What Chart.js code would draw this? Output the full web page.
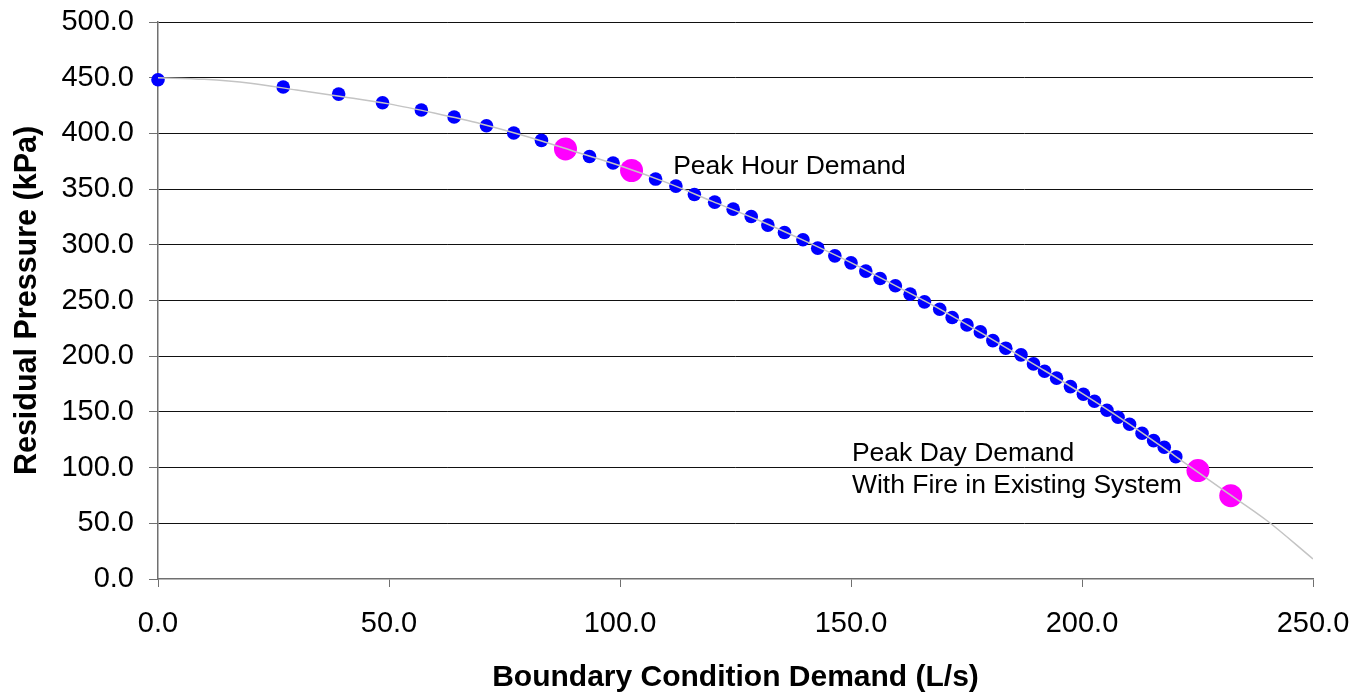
<!DOCTYPE html>
<html>
<head>
<meta charset="utf-8">
<title>Residual Pressure</title>
<script src="https://cdn.jsdelivr.net/npm/chart.js@4/dist/chart.umd.min.js"></script>
<style>
  html, body { margin: 0; padding: 0; background: #fff; }
  #wrap { width: 1368px; height: 696px; }
</style>
</head>
<body>
<div id="wrap"><canvas id="grafico"></canvas></div>
<script>
// demand (L/s) vs residual pressure (kPa)
const demanda = [0, 27.1, 39.1, 48.6, 57.0, 64.1, 71.1, 77.0, 83.0, 93.4, 98.5, 107.7, 112.1, 116.1, 120.5,
  124.5, 128.4, 132.0, 135.6, 139.6, 142.8, 146.5, 150.0, 153.2, 156.3, 159.6, 162.8, 165.9, 169.2, 171.9,
  175.1, 178.0, 180.7, 183.5, 186.8, 189.5, 191.9, 194.5, 197.5, 200.3, 202.7, 205.4, 207.8, 210.3, 213.0,
  215.5, 217.8, 220.3];
const presion = [448.2, 441.6, 435.3, 427.5, 421.0, 414.7, 406.9, 400.3, 393.7, 379.3, 373.4, 359.0, 352.7, 345.2, 338.3,
  332.0, 325.4, 317.7, 311.1, 304.5, 297.0, 290.1, 283.8, 276.4, 269.7, 263.2, 255.7, 248.8, 242.2, 234.7,
  228.1, 221.8, 214.0, 207.2, 201.2, 193.1, 186.5, 180.3, 172.7, 165.9, 159.6, 151.5, 145.2, 138.9, 130.8,
  124.2, 118.3, 109.8];

// highlighted demand points (peak hour, peak day + fire)
const demandaPico = [88.2, 102.5, 225.1, 232.2];
const presionPico = [386.1, 366.7, 97.3, 74.8];

// fitted curve
const curvaX = [0, 10, 20, 30, 40, 50, 60, 70, 80, 90, 100, 110, 120, 130, 140, 150, 160, 170, 180, 190, 200, 210, 220, 230, 240, 250];
const curvaY = [450, 448.5, 445, 439, 433, 426.5, 418, 408.5, 397, 384, 371, 356, 339, 322, 303.5, 284, 262.5, 240.5, 216.5, 191.8, 166.6, 139.7, 110.8, 81.5, 52.5, 18];

const ticksX = [0, 50, 100, 150, 200, 250];
const ticksY = [0, 50, 100, 150, 200, 250, 300, 350, 400, 450, 500];

const notas = [
  { text: "Peak Hour Demand", x: 111.5, y: 363.5 },
  { text: "Peak Day Demand", x: 150.2, y: 106 },
  { text: "With Fire in Existing System", x: 150.2, y: 77 }
];

const fuente = "'Liberation Sans', Arial, sans-serif";
const pares = (xs, ys) => xs.map((x, i) => ({ x: x, y: ys[i] }));

const etiquetas = {
  id: "etiquetas",
  afterDatasetsDraw(chart) {
    const ctx = chart.ctx;
    const sx = chart.scales.x, sy = chart.scales.y;
    ctx.save();
    ctx.font = "26.5px " + fuente;
    ctx.fillStyle = "#000";
    ctx.textAlign = "left";
    ctx.textBaseline = "alphabetic";
    notas.forEach(n => ctx.fillText(n.text, sx.getPixelForValue(n.x), sy.getPixelForValue(n.y)));
    ctx.restore();
  }
};

new Chart(document.getElementById("grafico"), {
  type: "scatter",
  data: {
    datasets: [
      {
        label: "Curva",
        type: "line",
        data: pares(curvaX, curvaY),
        borderColor: "#c4c4c4",
        borderWidth: 1.5,
        pointRadius: 0,
        cubicInterpolationMode: "monotone",
        fill: false,
        order: 0
      },
      {
        label: "Pico",
        data: pares(demandaPico, presionPico),
        backgroundColor: "#ff00ff",
        borderWidth: 0,
        pointRadius: 11.5,
        clip: false,
        order: 1
      },
      {
        label: "Demanda",
        data: pares(demanda, presion),
        backgroundColor: "#0000ff",
        borderWidth: 0,
        pointRadius: 6.8,
        clip: false,
        order: 2
      }
    ]
  },
  options: {
    responsive: true,
    maintainAspectRatio: false,
    animation: false,
    layout: { padding: { left: 0, right: 55, top: 22, bottom: 0 } },
    plugins: {
      legend: { display: false },
      tooltip: { enabled: false }
    },
    scales: {
      x: {
        type: "linear",
        min: 0,
        max: 250,
        afterFit: s => { s.height = 117; s.paddingLeft = 0; s.paddingRight = 0; },
        afterBuildTicks: s => { s.ticks = ticksX.map(v => ({ value: v })); },
        ticks: {
          padding: 20,
          color: "#000",
          font: { family: fuente, size: 29 },
          callback: v => Number(v).toFixed(1)
        },
        grid: { drawOnChartArea: false, tickLength: 8, tickColor: "#707070", tickWidth: 1 },
        border: { color: "#707070", width: 1.5 },
        title: {
          display: true,
          text: "Boundary Condition Demand (L/s)",
          color: "#000",
          font: { family: fuente, size: 30, weight: "bold" },
          padding: { top: 0, bottom: 0 }
        }
      },
      y: {
        min: 0,
        max: 500,
        afterFit: s => { s.width = 158; s.paddingTop = 0; s.paddingBottom = 0; },
        afterBuildTicks: s => { s.ticks = ticksY.map(v => ({ value: v })); },
        ticks: {
          padding: 15,
          color: "#000",
          font: { family: fuente, size: 29 },
          callback: v => Number(v).toFixed(1)
        },
        grid: {
          color: c => (c.tick && c.tick.value === 0 ? "rgba(0,0,0,0)" : "#111"),
          lineWidth: 1,
          tickLength: 9,
          tickColor: "#707070"
        },
        border: { color: "#707070", width: 1.5 },
        title: {
          display: true,
          text: "Residual Pressure (kPa)",
          color: "#000",
          font: { family: fuente, size: 30.5, weight: "bold" },
          padding: { top: 9, bottom: 0 }
        }
      }
    }
  },
  plugins: [etiquetas]
});
</script>
</body>
</html>
